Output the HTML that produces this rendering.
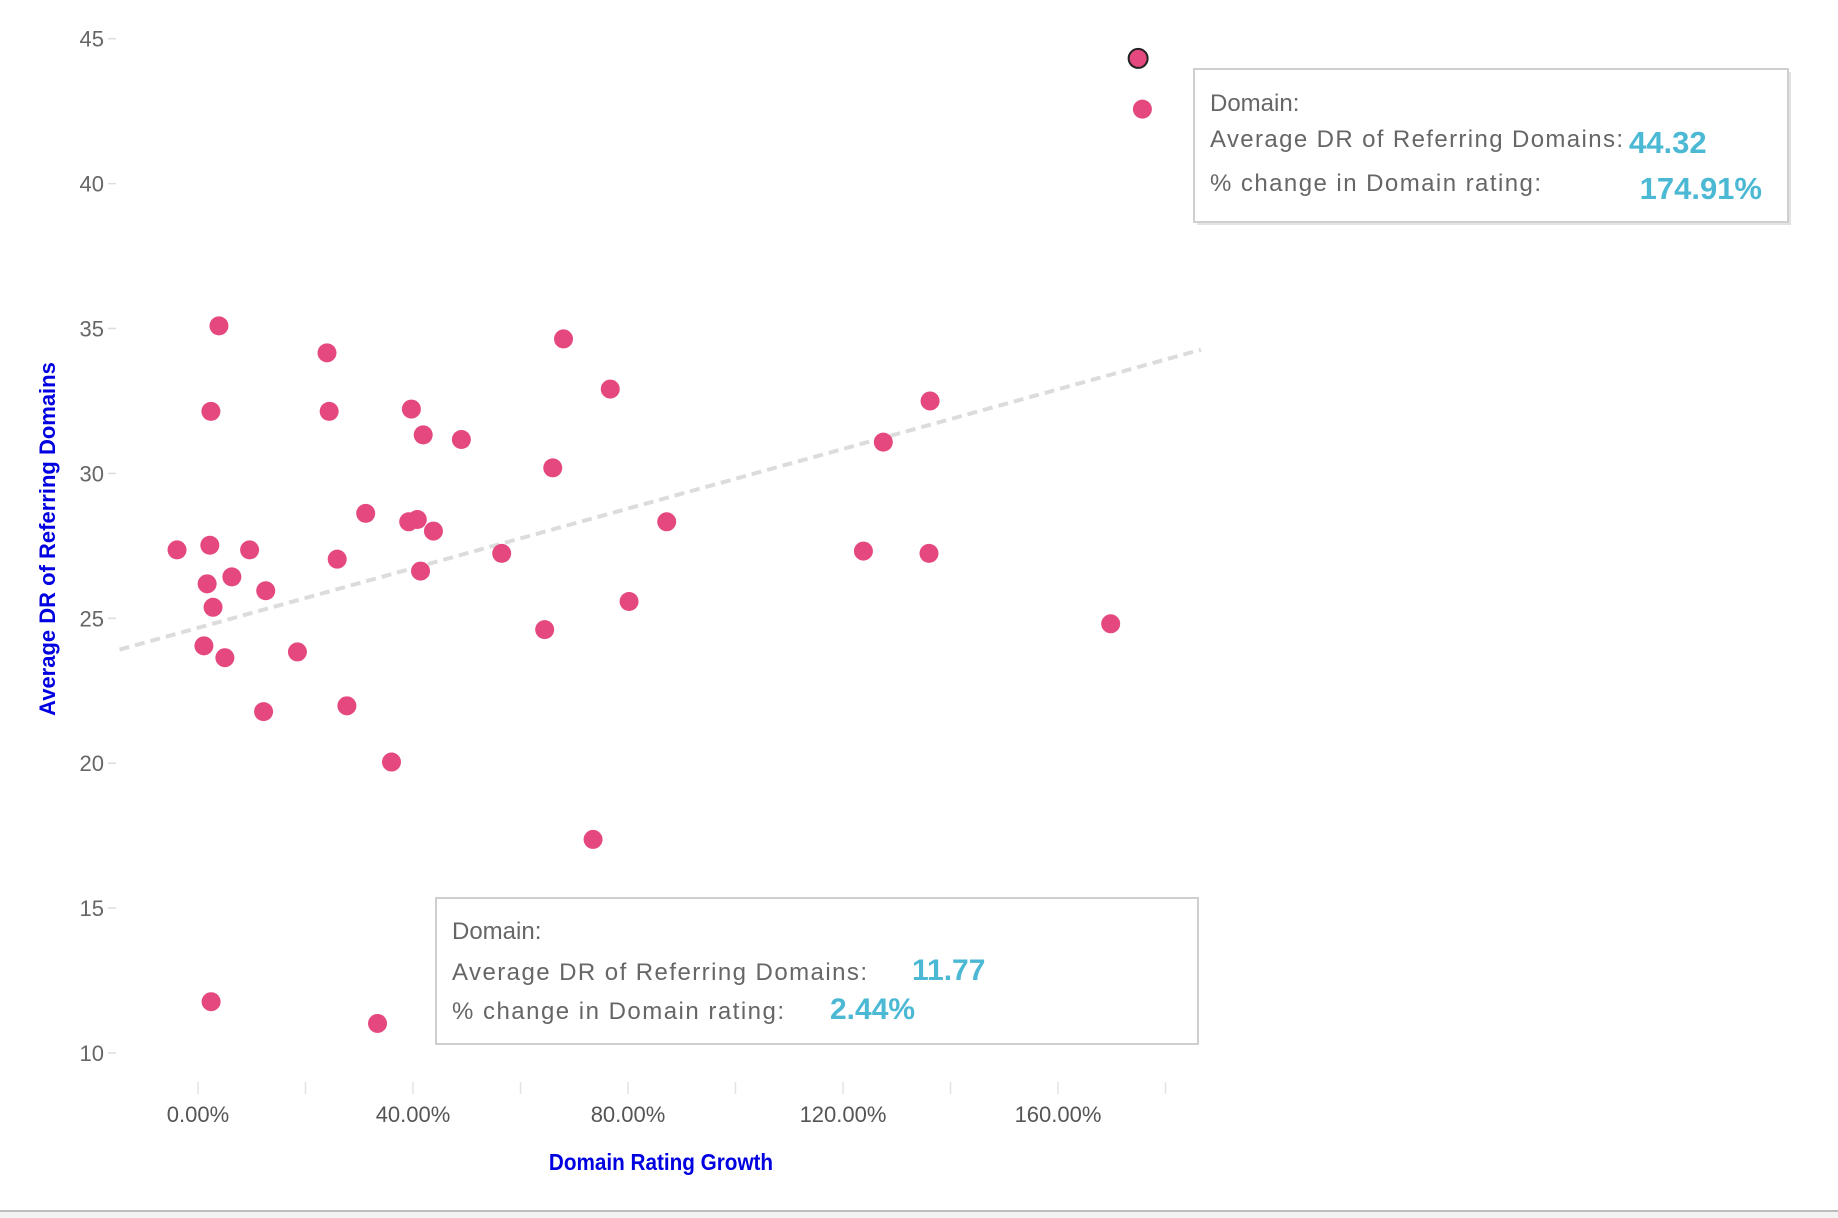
<!DOCTYPE html>
<html><head><meta charset="utf-8"><style>
html,body{margin:0;padding:0;background:#fff;}
svg{display:block;font-family:"Liberation Sans",sans-serif;}
</style></head><body>
<svg id="chart" width="1838" height="1218" viewBox="0 0 1838 1218">
<rect x="0" y="0" width="1838" height="1218" fill="#fff"/>
<rect x="0" y="1210" width="1838" height="8" fill="#f2f2f2"/>
<line x1="0" y1="1211" x2="1838" y2="1211" stroke="#bdbdbd" stroke-width="2"/>
<g id="axes"></g>
<g id="trend"></g>
<g id="points"></g>
<text x="55" y="539" transform="rotate(-90 55 539)" text-anchor="middle" font-size="22" font-weight="bold" fill="#0000e0">Average DR of Referring Domains</text>
<text x="661" y="1170" text-anchor="middle" font-size="23" font-weight="bold" fill="#0000e0" transform="translate(661 0) scale(0.9 1) translate(-661 0)">Domain Rating Growth</text>
<g>
<rect x="1197" y="72" width="594" height="153" fill="#d0d0d0" opacity="0.6"/>
<rect x="1194" y="69" width="594" height="153" fill="#fff" stroke="#cfcfcf" stroke-width="2"/>
<text x="1210" y="111" font-size="24" fill="#666">Domain:</text>
<text x="1210" y="147" font-size="24" fill="#666" textLength="413">Average DR of Referring Domains:</text>
<text x="1629" y="153" font-size="31" font-weight="bold" fill="#4bb8d4">44.32</text>
<text x="1210" y="191" font-size="24" fill="#666" textLength="331">% change in Domain rating:</text>
<text x="1762" y="199" text-anchor="end" font-size="31" font-weight="bold" fill="#4bb8d4">174.91%</text>
</g>
<g>
<rect x="436" y="898" width="762" height="146" fill="#fff" stroke="#cfcfcf" stroke-width="2"/>
<text x="452" y="939" font-size="24" fill="#666">Domain:</text>
<text x="452" y="980" font-size="24" fill="#666" textLength="415">Average DR of Referring Domains:</text>
<text x="912" y="980" font-size="30" font-weight="bold" fill="#4bb8d4">11.77</text>
<text x="452" y="1019" font-size="24" fill="#666" textLength="332">% change in Domain rating:</text>
<text x="830" y="1019" font-size="30" font-weight="bold" fill="#4bb8d4">2.44%</text>
</g>
</svg>
<script>
const xValues=[174.91,175.7,3.9,24.0,68.0,2.4,24.4,39.7,41.9,49.0,76.7,136.2,127.5,66.0,31.2,39.2,40.8,43.8,87.2,-3.9,2.2,9.6,25.9,56.5,123.8,136.0,1.7,6.3,12.6,41.4,2.8,80.2,64.5,169.8,1.1,5.0,18.5,12.2,27.7,36.0,73.5,2.44,33.4];
const yValues=[44.32,42.57,35.09,34.16,34.64,32.14,32.14,32.22,31.33,31.17,32.91,32.50,31.08,30.19,28.62,28.33,28.41,28.01,28.33,27.36,27.52,27.36,27.04,27.24,27.32,27.24,26.19,26.43,25.95,26.63,25.38,25.58,24.61,24.81,24.05,23.64,23.84,21.78,21.98,20.04,17.37,11.77,11.02];
const highlighted=[0];
const xTicks=[0,40,80,120,160];
const xTickLabels=["0.00%","40.00%","80.00%","120.00%","160.00%"];
const xTickMarks=[0,20,40,60,80,100,120,140,160,180];
const yTicks=[10,15,20,25,30,35,40,45];
const trendX=[-14.6,186.6];
const trendY=[23.92,34.27];
const NS="http://www.w3.org/2000/svg";
const X=v=>198+v*215/40;
const Y=v=>38.7+(45-v)*144.9/5;
function mk(tag,attrs,parent){const e=document.createElementNS(NS,tag);for(const k in attrs)e.setAttribute(k,attrs[k]);parent.appendChild(e);return e;}
const axes=document.getElementById('axes');
yTicks.forEach(v=>{
  const t=mk('text',{x:104,y:Y(v)+8,'text-anchor':'end','font-size':22,fill:'#666'},axes);
  t.textContent=v;
  
  
  const l=mk('line',{x1:108,x2:116,y1:Y(v),y2:Y(v),stroke:'#ddd','stroke-width':1.5},axes);
  
  
});
xTickMarks.forEach(v=>{
  const l=mk('line',{x1:X(v),x2:X(v),y1:1082,y2:1094,stroke:'#e2e2e2','stroke-width':1.5},axes);
  
  
});
xTicks.forEach((v,i)=>{
  const t=mk('text',{x:X(v),y:1122,'text-anchor':'middle','font-size':22,fill:'#555'},axes);
  t.textContent=xTickLabels[i];
  
  
});
const tr=mk('line',{x1:X(trendX[0]),y1:Y(trendY[0]),x2:X(trendX[1]),y2:Y(trendY[1]),stroke:'#dcdcdc','stroke-width':4,'stroke-dasharray':'10 6'},document.getElementById('trend'));


const pts=document.getElementById('points');
xValues.forEach((xv,i)=>{
  const hl=highlighted.includes(i);
  const c=mk('circle',{cx:X(xv),cy:Y(yValues[i]),r:9.5,fill:'#e4487f'},pts);
  if(hl){c.setAttribute('stroke','#222');c.setAttribute('stroke-width','2');}
  
  
});
</script>
</body></html>
